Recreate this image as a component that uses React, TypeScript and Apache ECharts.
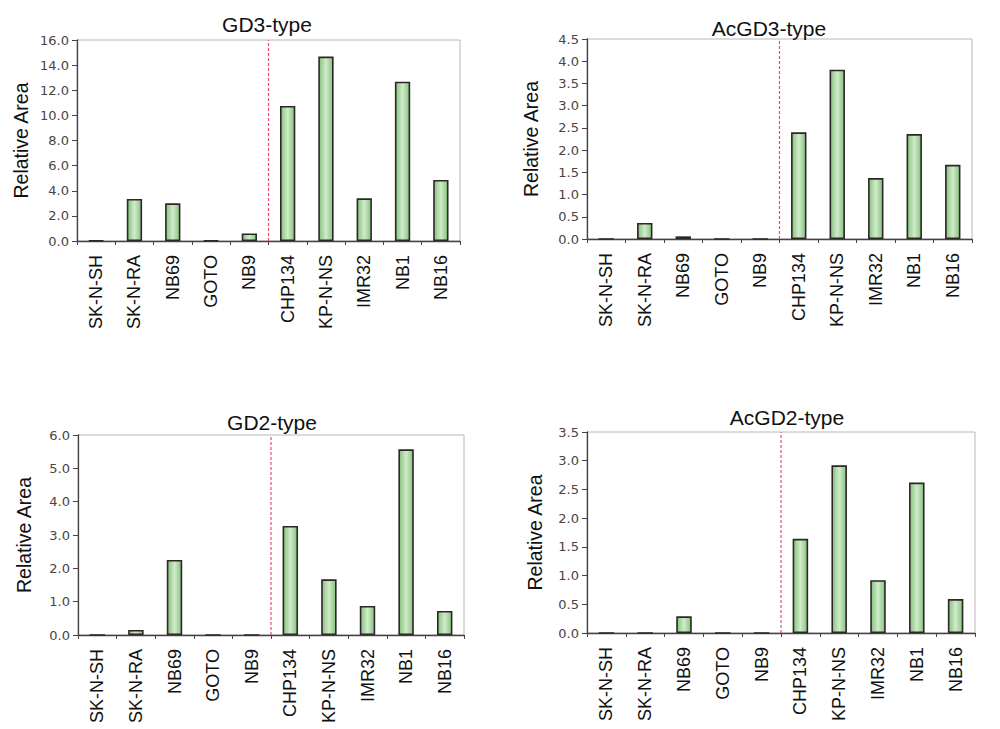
import React, { useEffect, useRef } from "react";
import * as echarts from "echarts";

const categories = ["SK-N-SH", "SK-N-RA", "NB69", "GOTO", "NB9", "CHP134", "KP-N-NS", "IMR32", "NB1", "NB16"];

const gd3Values = [0.05, 3.35, 3.0, 0.05, 0.6, 10.75, 14.68, 3.4, 12.68, 4.86];
const acgd3Values = [0, 0.36, 0.06, 0, 0, 2.4, 3.81, 1.37, 2.36, 1.67];
const gd2Values = [0, 0.15, 2.25, 0, 0, 3.27, 1.67, 0.87, 5.57, 0.72];
const acgd2Values = [0, 0, 0.29, 0, 0, 1.64, 2.92, 0.92, 2.62, 0.59];

const panelTitles = ["GD3-type", "AcGD3-type", "GD2-type", "AcGD2-type"];
const yMaxes = [16, 4.5, 6, 3.5];
const yIntervals = [2, 0.5, 1, 0.5];
const dividerIndex = 5; // boundary between NB9 and CHP134

const panels = [
  { values: gd3Values, grid: { left: 77, right: 540, top: 40, height: 201 }, title: { left: 262, top: 9 }, nameGap: 46 },
  { values: acgd3Values, grid: { left: 587, right: 28, top: 39, height: 200 }, title: { left: 764, top: 13 }, nameGap: 46 },
  { values: gd2Values, grid: { left: 78, right: 536, top: 435, height: 200 }, title: { left: 267, top: 407 }, nameGap: 44 },
  { values: acgd2Values, grid: { left: 587, right: 25, top: 432, height: 201 }, title: { left: 782, top: 402 }, nameGap: 42 },
];

export default function App() {
  const ref = useRef<HTMLDivElement>(null);

  useEffect(() => {
    if (!ref.current) return;
    const chart = echarts.init(ref.current, undefined, { renderer: "svg" });

    const barColor = new echarts.graphic.LinearGradient(0, 0, 1, 0, [
      { offset: 0, color: "#86c181" },
      { offset: 0.5, color: "#d0ecc9" },
      { offset: 1, color: "#86c181" },
    ]);

    const axisColor = "#4a4242";

    const option: any = {
      animation: false,
      backgroundColor: "#ffffff",
      title: panels.map((p, i) => ({
        text: panelTitles[i],
        left: p.title.left,
        top: p.title.top,
        textAlign: "center",
        textStyle: { fontFamily: "Liberation Sans", fontSize: 21, fontWeight: "normal", color: "#111" },
      })),
      grid: panels.map((p) => ({
        ...p.grid,
        show: true,
        borderColor: "#b8b8b8",
        borderWidth: 1,
        backgroundColor: "transparent",
        containLabel: false,
      })),
      xAxis: [
        ...panels.map((_, i) => ({
          type: "category",
          gridIndex: i,
          data: categories,
          axisLine: { lineStyle: { color: axisColor, width: 1.3 } },
          axisTick: { show: true, length: 4, lineStyle: { color: axisColor } },
          axisLabel: {
            rotate: 90,
            margin: 14,
            fontFamily: "Liberation Sans",
            fontSize: 18,
            color: "#111",
            interval: 0,
          },
        })),
        ...panels.map((_, i) => ({
          type: "value",
          gridIndex: i,
          min: 0,
          max: categories.length,
          show: false,
        })),
      ],
      yAxis: panels.map((p, i) => ({
        type: "value",
        gridIndex: i,
        min: 0,
        max: yMaxes[i],
        interval: yIntervals[i],
        name: "Relative Area",
        nameLocation: "middle",
        nameGap: p.nameGap,
        nameTextStyle: { fontFamily: "Liberation Sans", fontSize: 19.5, color: "#111" },
        axisLine: { show: true, lineStyle: { color: axisColor, width: 1.3 } },
        axisTick: { show: true, length: 5, lineStyle: { color: axisColor } },
        splitLine: { show: false },
        axisLabel: {
          margin: 8,
          fontFamily: "DejaVu Sans",
          fontSize: 13,
          color: "#4a4444",
          formatter: (v: number) => v.toFixed(1),
        },
      })),
      series: [
        ...panels.map((p, i) => ({
          type: "bar",
          xAxisIndex: i,
          yAxisIndex: i,
          data: p.values,
          barWidth: "40%",
          itemStyle: { color: barColor, borderColor: "#2e2626", borderWidth: 1.6 },
        })),
        ...panels.map((_, i) => ({
          type: "line",
          xAxisIndex: 4 + i,
          yAxisIndex: i,
          data: [
            [dividerIndex, 0],
            [dividerIndex, yMaxes[i]],
          ],
          symbol: "none",
          silent: true,
          lineStyle: { color: "#f04a6c", width: 1.2, type: [3, 2] },
          z: 1,
        })),
      ],
    };

    chart.setOption(option);
    return () => chart.dispose();
  }, []);

  return (
    <div
      ref={ref}
      style={{ position: "absolute", left: 0, top: 0, width: 1000, height: 729, background: "#fff" }}
    />
  );
}
